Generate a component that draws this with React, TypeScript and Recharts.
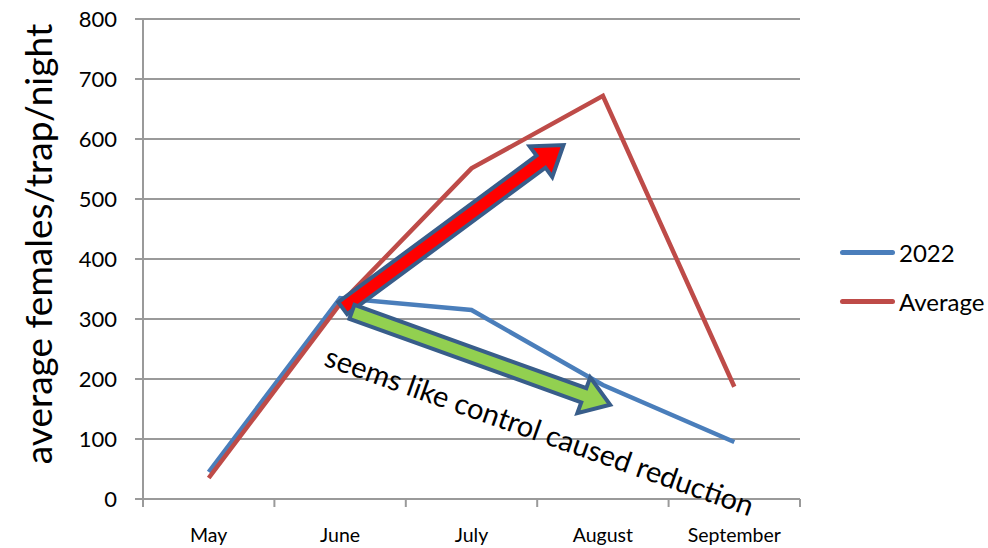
import React from "react";
import {
  CartesianGrid,
  ComposedChart,
  Legend,
  Line,
  ReferenceDot,
  ReferenceLine,
  XAxis,
  YAxis,
} from "recharts";

const months = ["May", "June", "July", "August", "September"];
const series2022 = [45, 335, 315, 190, 95];
const seriesAverage = [35, 325, 551, 672, 187];
const yTicks = [0, 100, 200, 300, 400, 500, 600, 700, 800];
const bandTicks = [0, 1, 2, 3, 4, 5];

// annotation arrows, in (band position, value) units
const redArrow = [
  { x: 1.52, y: 318 },
  { x: 3.2, y: 590 },
];
const greenArrow = [
  { x: 1.59, y: 312 },
  { x: 3.555, y: 157 },
];
const note = { x: 3.02, y: 115, text: "seems like control caused reduction" };

// pos = centre of each month's band on the hidden numeric axis
const data = months.map((m, i) => ({
  month: m,
  pos: i + 0.5,
  y2022: series2022[i],
  avg: seriesAverage[i],
}));

const FONT = "Lato, 'Open Sans', sans-serif";
const GRAY = "#9a9a9a";
const BLUE = "#4a7ebb";
const RED = "#be4b48";

function BlockArrow(props: any) {
  const { x1, y1, x2, y2, fill } = props;
  if ([x1, y1, x2, y2].some((v) => typeof v !== "number" || isNaN(v))) return null;
  const len = Math.hypot(x2 - x1, y2 - y1);
  const dx = (x2 - x1) / len;
  const dy = (y2 - y1) / len;
  const nx = -dy;
  const ny = dx;
  const w = 7.5;
  const h = 19;
  const L = 28;
  const bx = x2 - dx * L;
  const by = y2 - dy * L;
  const pts = [
    [x1 + nx * w, y1 + ny * w],
    [bx + nx * w, by + ny * w],
    [bx + nx * h, by + ny * h],
    [x2, y2],
    [bx - nx * h, by - ny * h],
    [bx - nx * w, by - ny * w],
    [x1 - nx * w, y1 - ny * w],
  ]
    .map((p) => p.join(","))
    .join(" ");
  return (
    <polygon
      points={pts}
      fill={fill}
      stroke="#385d8a"
      strokeWidth={4}
      strokeLinejoin="miter"
    />
  );
}

function NoteText(props: any) {
  const { cx, cy } = props;
  if (typeof cx !== "number" || typeof cy !== "number") return null;
  return (
    <text
      x={cx}
      y={cy}
      textAnchor="middle"
      dominantBaseline="central"
      transform={`rotate(19.5 ${cx} ${cy})`}
      fontSize={29}
      fontFamily={FONT}
      fill="#000"
    >
      {note.text}
    </text>
  );
}

function YTitle() {
  return (
    <text
      x={37}
      y={244}
      transform="rotate(-90 37 244)"
      textAnchor="middle"
      dominantBaseline="central"
      fontSize={37}
      fontFamily={FONT}
      fill="#000"
    >
      average females/trap/night
    </text>
  );
}

function LegendBox() {
  const items = [
    { label: "2022", color: BLUE },
    { label: "Average", color: RED },
  ];
  return (
    <div style={{ position: "absolute", left: 840, top: 228, fontFamily: FONT }}>
      {items.map((it) => (
        <div
          key={it.label}
          style={{ display: "flex", alignItems: "center", height: 49 }}
        >
          <div
            style={{
              width: 55,
              height: 5,
              borderRadius: 3,
              background: it.color,
              marginRight: 4,
            }}
          />
          <span style={{ fontSize: 24, color: "#000" }}>{it.label}</span>
        </div>
      ))}
    </div>
  );
}

export default function App() {
  return (
    <div style={{ width: 988, height: 548, background: "#fff", position: "relative" }}>
      <style>{`body{margin:0}`}</style>
      <ComposedChart
        width={988}
        height={548}
        data={data}
        margin={{ top: 19, right: 188, left: 0, bottom: 0 }}
      >
        <CartesianGrid
          horizontal
          vertical={false}
          stroke={GRAY}
          strokeWidth={2}
          xAxisId="band"
        />
        <XAxis
          xAxisId="band"
          dataKey="pos"
          type="number"
          domain={[0, 5]}
          allowDataOverflow
          ticks={bandTicks}
          tickFormatter={() => ""}
          tickSize={8}
          height={8}
          axisLine={{ stroke: GRAY, strokeWidth: 2 }}
          tickLine={{ stroke: GRAY, strokeWidth: 2 }}
        />
        <XAxis
          xAxisId="month"
          dataKey="month"
          scale="band"
          height={41}
          axisLine={false}
          tickLine={false}
          tickMargin={15}
          tick={{ fill: "#000", fontSize: 19.5, fontFamily: FONT }}
        />
        <YAxis
          domain={[0, 800]}
          ticks={yTicks}
          width={143}
          tickSize={8}
          tickMargin={18}
          axisLine={{ stroke: GRAY, strokeWidth: 2 }}
          tickLine={{ stroke: GRAY, strokeWidth: 2 }}
          tick={{ fill: "#000", fontSize: 22, fontFamily: FONT }}
          label={{ content: () => <YTitle /> }}
        />
        <Legend
          content={() => <LegendBox />}
          wrapperStyle={{ position: "absolute", left: 0, top: 0, width: 0, height: 0 }}
        />
        <Line
          xAxisId="month"
          dataKey="y2022"
          name="2022"
          stroke={BLUE}
          strokeWidth={4.5}
          dot={false}
          activeDot={false}
          isAnimationActive={false}
        />
        <Line
          xAxisId="month"
          dataKey="avg"
          name="Average"
          stroke={RED}
          strokeWidth={4.5}
          dot={false}
          activeDot={false}
          isAnimationActive={false}
        />
        <ReferenceLine
          xAxisId="band"
          segment={redArrow}
          ifOverflow="visible"
          shape={(p: any) => <BlockArrow {...p} fill="#ff0000" />}
        />
        <ReferenceLine
          xAxisId="band"
          segment={greenArrow}
          ifOverflow="visible"
          shape={(p: any) => <BlockArrow {...p} fill="#92d050" />}
        />
        <ReferenceDot
          xAxisId="band"
          x={note.x}
          y={note.y}
          ifOverflow="visible"
          shape={(p: any) => <NoteText {...p} />}
        />
      </ComposedChart>
    </div>
  );
}
